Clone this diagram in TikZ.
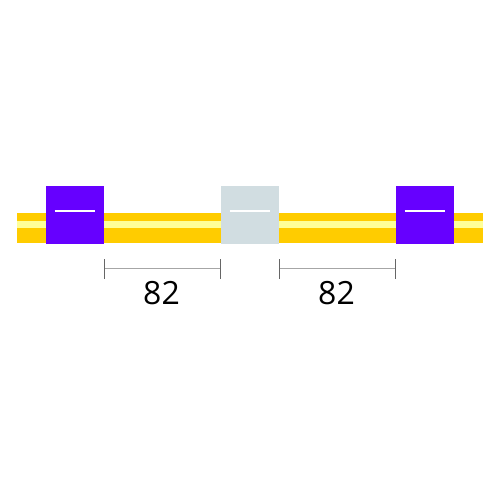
\documentclass[tikz,border=0pt]{standalone}
\usepackage{fontspec}
\setmainfont{Open Sans}
\definecolor{tubeY}{HTML}{FFCC00}
\definecolor{tubeL}{HTML}{FFFF99}
\definecolor{purp}{HTML}{6600FF}
\definecolor{greyb}{HTML}{D1DDE1}
\definecolor{dimg}{HTML}{A6A6A6}
\definecolor{tickg}{HTML}{666666}
\begin{document}
\begin{tikzpicture}[x=1pt,y=-1pt,
  band/.style={draw=none,minimum width=58pt,minimum height=58.3pt,inner sep=0pt},
  mark line/.style={white,line width=2.6pt},
  dimline/.style={dimg,line width=1pt},
  tickline/.style={tickg,line width=1pt},
  lab/.style={font=\fontsize{32}{38}\selectfont,inner sep=0pt}]
\useasboundingbox[fill=white] (0,0) rectangle (500,500);
% tube
\fill[tubeY] (16.5,213.3) rectangle (483.3,242.7);
\fill[tubeL] (16.5,220.7) rectangle (483.3,228.3);
% bands
\node[band,fill=purp] (b1) at (74.85,215.15) {};
\node[band,fill=greyb] (b2) at (250,215.15) {};
\node[band,fill=purp] (b3) at (424.85,215.15) {};
\foreach \b in {b1,b2,b3}{
  \draw[mark line] ([xshift=-20.3pt,yshift=4pt]\b.center) -- ([xshift=20.3pt,yshift=4pt]\b.center);
}
% dimension lines
\coordinate (d1a) at (104.5,268.7);
\coordinate (d1b) at (220.8,268.7);
\coordinate (d2a) at (279.2,268.7);
\coordinate (d2b) at (395.5,268.7);
\draw[dimline] (d1a) -- (d1b);
\draw[dimline] (d2a) -- (d2b);
\foreach \c in {d1a,d1b,d2a,d2b}{
  \draw[tickline] ([yshift=9.5pt]\c) -- ([yshift=-10pt]\c);
}
\node[lab] (t1) at (161.5,293.2) {82};
\node[lab] (t2) at (336.5,293.2) {82};
\end{tikzpicture}
\end{document}
